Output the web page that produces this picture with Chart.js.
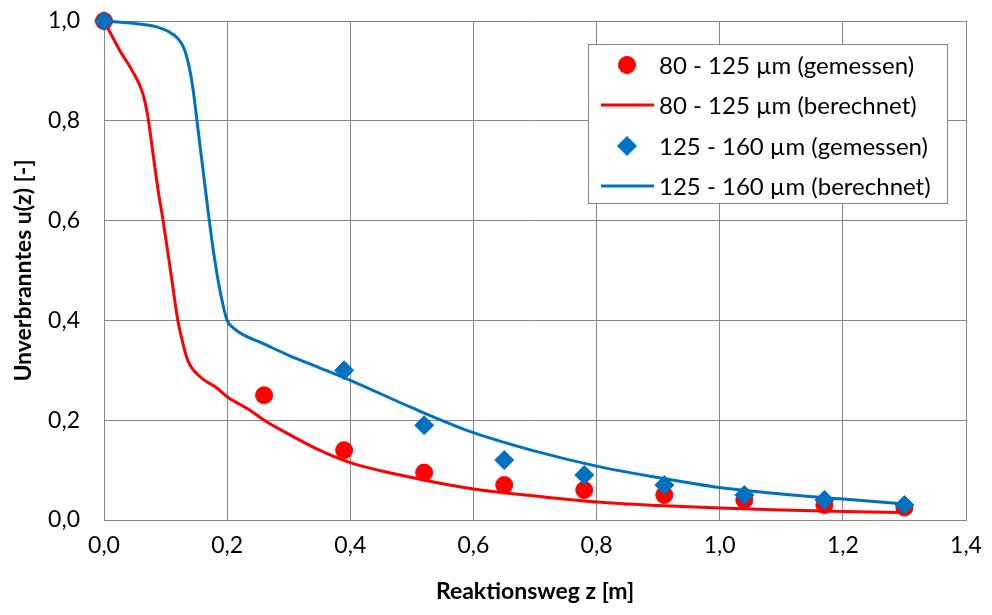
<!DOCTYPE html>
<html>
<head>
<meta charset="utf-8">
<script src="https://cdn.jsdelivr.net/npm/chart.js@4/dist/chart.umd.min.js"></script>
<style>
html,body{margin:0;padding:0;background:#fff;}
#wrap{width:992px;height:615px;position:relative;}
</style>
</head>
<body>
<div id="wrap"><canvas id="c" width="992" height="615"></canvas></div>
<script>
// Measured points
const measX = [0, 0.26, 0.39, 0.52, 0.65, 0.78, 0.91, 1.04, 1.17, 1.30];
const red80Meas = [1.0, 0.25, 0.14, 0.095, 0.07, 0.06, 0.05, 0.04, 0.03, 0.025];
const blueMeasX = [0, 0.39, 0.52, 0.65, 0.78, 0.91, 1.04, 1.17, 1.30];
const blue125Meas = [1.0, 0.30, 0.19, 0.12, 0.09, 0.07, 0.05, 0.04, 0.03];

// Calculated curves
const redCalcX = [0, 0.013, 0.026, 0.046, 0.063, 0.071, 0.079, 0.088, 0.096, 0.108, 0.12, 0.128, 0.136, 0.156, 0.183, 0.2, 0.237, 0.26, 0.3, 0.35, 0.4, 0.5, 0.6, 0.7, 0.8, 0.9, 1.0, 1.1, 1.2, 1.3];
const redCalcY = [1.0, 0.97, 0.94, 0.90, 0.855, 0.81, 0.74, 0.66, 0.60, 0.50, 0.40, 0.355, 0.32, 0.287, 0.265, 0.247, 0.22, 0.20, 0.172, 0.14, 0.115, 0.085, 0.062, 0.048, 0.036, 0.029, 0.024, 0.020, 0.017, 0.015];
const blueCalcX = [0, 0.05, 0.08, 0.103, 0.12, 0.13, 0.138, 0.145, 0.151, 0.161, 0.171, 0.18, 0.19, 0.2, 0.21, 0.225, 0.256, 0.3, 0.35, 0.4, 0.5, 0.6, 0.7, 0.8, 0.9, 1.0, 1.1, 1.2, 1.3];
const blueCalcY = [1.0, 0.995, 0.99, 0.98, 0.965, 0.945, 0.91, 0.86, 0.80, 0.70, 0.60, 0.52, 0.45, 0.40, 0.385, 0.372, 0.355, 0.33, 0.305, 0.28, 0.225, 0.175, 0.138, 0.108, 0.085, 0.065, 0.052, 0.042, 0.032];

const seriesLabels = ['80 - 125 µm (gemessen)', '80 - 125 µm (berechnet)', '125 - 160 µm (gemessen)', '125 - 160 µm (berechnet)'];
const xTitle = 'Reaktionsweg z [m]';
const yTitle = 'Unverbranntes u(z) [-]';

const RED = '#FF0000';
const BLUE = '#0070C0';
const GRID = '#878787';
const FONT = 'Lato, "Open Sans", sans-serif';

const zip = (xs, ys) => xs.map((x, i) => ({x: x, y: ys[i]}));
const fmt = v => Number(v).toFixed(1).replace('.', ',');

const boxLegend = {
  id: 'boxLegend',
  afterDraw(chart) {
    const ctx = chart.ctx;
    const L = 588, T = 44, R = 948, B = 204;
    ctx.save();
    ctx.fillStyle = '#fff';
    ctx.fillRect(L, T, R - L, B - T);
    ctx.strokeStyle = GRID;
    ctx.lineWidth = 1;
    ctx.strokeRect(L + 0.5, T + 0.5, R - L - 1, B - T - 1);
    const rows = [65, 105, 146, 186];
    ctx.font = '24px ' + FONT;
    ctx.textBaseline = 'middle';
    ctx.textAlign = 'left';
    chart.data.datasets.forEach((ds, i) => {
      const y = rows[i];
      if (ds.showLine) {
        ctx.strokeStyle = ds.borderColor;
        ctx.lineWidth = 3;
        ctx.beginPath();
        ctx.moveTo(601, y);
        ctx.lineTo(654, y);
        ctx.stroke();
      } else {
        ctx.fillStyle = ds.backgroundColor;
        ctx.strokeStyle = ds.borderColor;
        ctx.lineWidth = 1;
        Chart.helpers.drawPoint(ctx, {pointStyle: ds.pointStyle, radius: ds.pointRadius, borderWidth: 1, rotation: 0}, 627, y);
      }
      ctx.fillStyle = '#000';
      ctx.fillText(ds.label, 659, y + 1);
    });
    ctx.restore();
  }
};

new Chart(document.getElementById('c'), {
  type: 'scatter',
  data: {
    datasets: [
      {label: seriesLabels[0], data: zip(measX, red80Meas), pointStyle: 'circle', pointRadius: 8.5, backgroundColor: RED, borderColor: RED, borderWidth: 1, showLine: false, order: 3, clip: false},
      {label: seriesLabels[1], data: zip(redCalcX, redCalcY), showLine: true, borderColor: RED, backgroundColor: RED, borderWidth: 3, pointRadius: 0, cubicInterpolationMode: 'monotone', order: 4, clip: false},
      {label: seriesLabels[2], data: zip(blueMeasX, blue125Meas), pointStyle: 'rectRot', pointRadius: 9.5, backgroundColor: BLUE, borderColor: BLUE, borderWidth: 1, showLine: false, order: 1, clip: false},
      {label: seriesLabels[3], data: zip(blueCalcX, blueCalcY), showLine: true, borderColor: BLUE, backgroundColor: BLUE, borderWidth: 3, pointRadius: 0, cubicInterpolationMode: 'monotone', order: 2, clip: false}
    ]
  },
  options: {
    responsive: false,
    animation: false,
    devicePixelRatio: 1,
    layout: {padding: {left: 0, right: 26, top: 21, bottom: 0}},
    plugins: {
      legend: {display: false},
      tooltip: {enabled: false}
    },
    scales: {
      x: {
        type: 'linear', min: 0, max: 1.4,
        ticks: {stepSize: 0.2, callback: v => fmt(v), color: '#000', font: {family: FONT, size: 23}, padding: 12, maxRotation: 0},
        grid: {color: GRID, lineWidth: 1, drawTicks: false},
        border: {color: GRID, width: 1},
        title: {display: true, text: xTitle, color: '#000', font: {family: FONT, size: 23, weight: 'bold'}, padding: {top: 0, bottom: 10}},
        afterFit(s) { s.height = 95; s.paddingLeft = 0; s.paddingRight = 0; }
      },
      y: {
        type: 'linear', min: 0, max: 1.0,
        ticks: {stepSize: 0.2, callback: v => fmt(v), color: '#000', font: {family: FONT, size: 23}, padding: 24},
        grid: {color: GRID, lineWidth: 1, drawTicks: false},
        border: {color: GRID, width: 1},
        title: {display: true, text: yTitle, color: '#000', font: {family: FONT, size: 23, weight: 'bold'}, padding: {top: 10, bottom: 0}},
        afterFit(s) { s.width = 104; s.paddingTop = 0; s.paddingBottom = 0; }
      }
    }
  },
  plugins: [boxLegend]
});
</script>
</body>
</html>
